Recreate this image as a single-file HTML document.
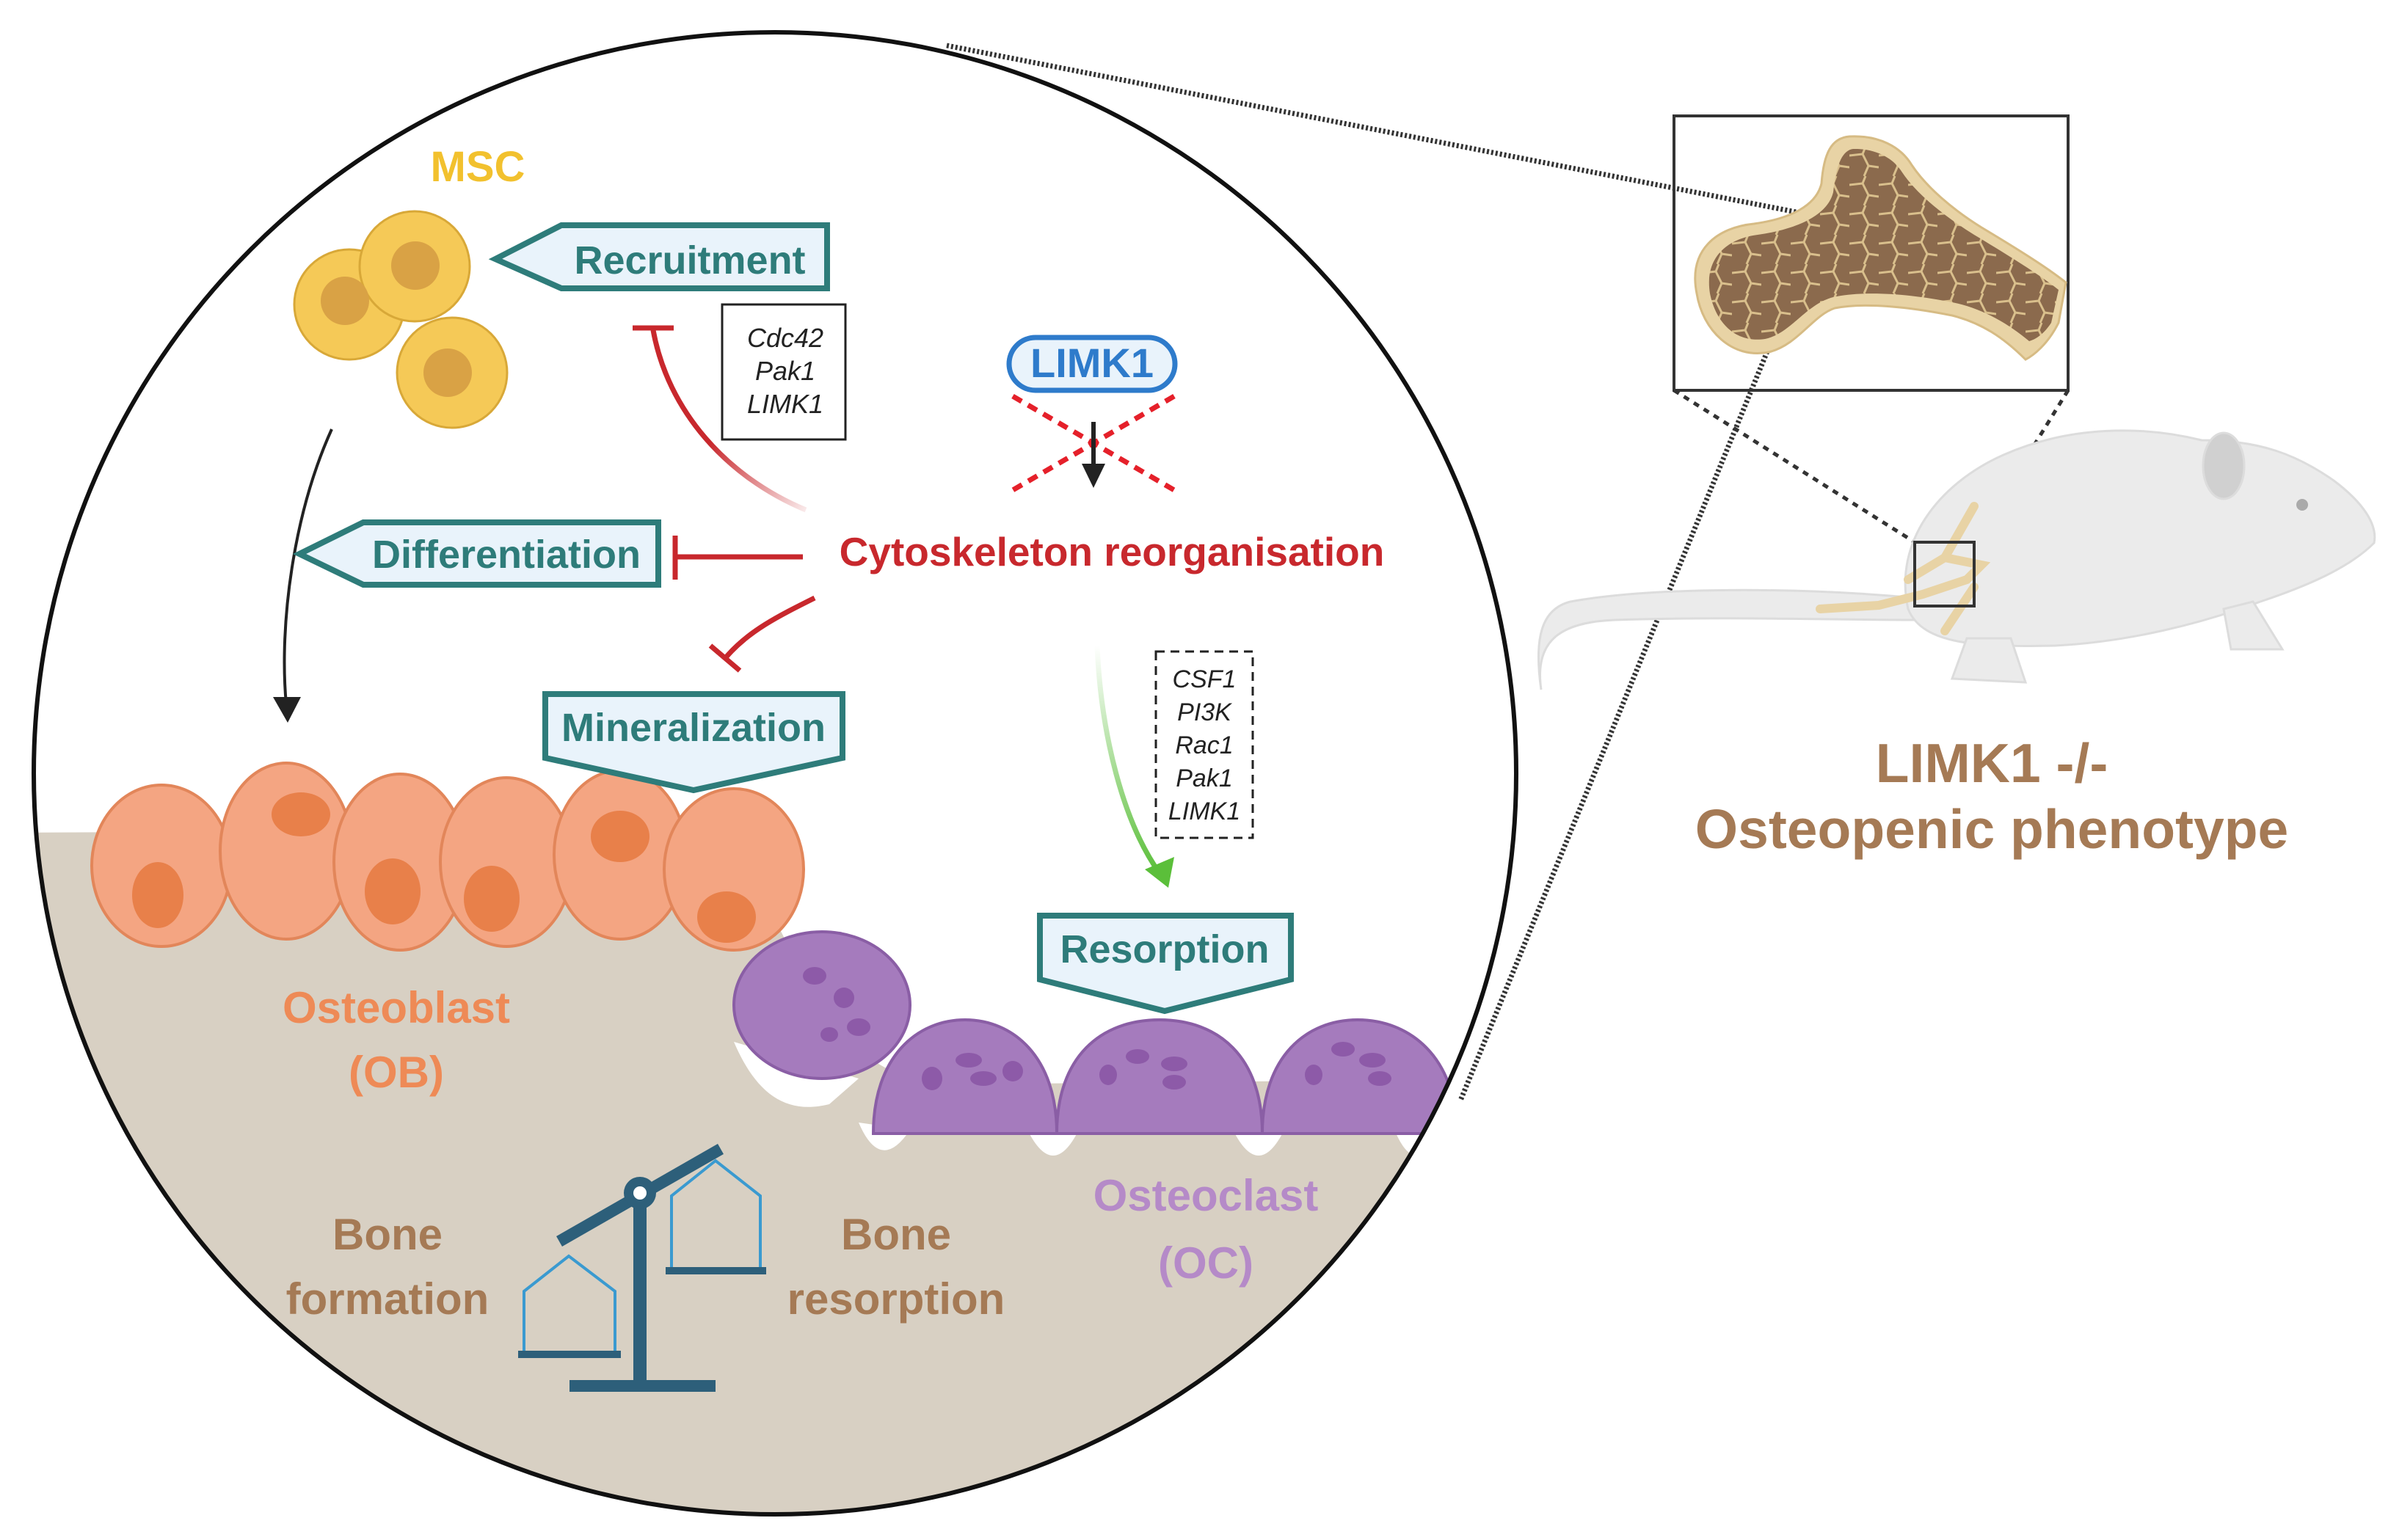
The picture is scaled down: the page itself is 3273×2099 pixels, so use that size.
<!DOCTYPE html>
<html><head><meta charset="utf-8"><style>
html,body{margin:0;padding:0;background:#fff;}
svg{display:block;}
text{font-family:"Liberation Sans",sans-serif;}
</style></head><body>
<svg width="3273" height="2099" viewBox="0 0 3273 2099" xmlns="http://www.w3.org/2000/svg">
<defs>
<clipPath id="circ"><circle cx="1056" cy="1054" r="1010"/></clipPath>
<linearGradient id="gr" x1="0" y1="0" x2="0" y2="1"><stop offset="0" stop-color="#5bbf3a" stop-opacity="0"/><stop offset="1" stop-color="#5bbf3a"/></linearGradient>
<linearGradient id="rd1" x1="1" y1="1" x2="0" y2="0"><stop offset="0" stop-color="#c8282d" stop-opacity="0.1"/><stop offset="0.5" stop-color="#c8282d"/></linearGradient>
<pattern id="sp" width="40" height="40" patternUnits="userSpaceOnUse">
<rect width="40" height="40" fill="#8b6a4d"/>
<path d="M0 12 L18 10 L22 0 M18 10 L26 26 L40 28 M26 26 L20 40" stroke="#d9bf8c" stroke-width="3" fill="none"/>
</pattern>
</defs>

<line x1="1290" y1="62" x2="2483" y2="296" stroke="#333" stroke-width="7" stroke-dasharray="3 3"/>
<line x1="2483" y1="296" x2="1990" y2="1500" stroke="#333" stroke-width="7" stroke-dasharray="3 3"/>

<g clip-path="url(#circ)">
<rect x="0" y="0" width="2100" height="2099" fill="#fff"/>
<path d="M0 1135 L1000 1130 C1040 1220 1080 1320 1160 1420 C1200 1460 1240 1475 1300 1478 L2100 1470 L2100 2100 L0 2100 Z" fill="#d8d0c3"/>
<g fill="#fff">
<path d="M1000 1420 C1030 1490 1070 1520 1130 1505 L1170 1470 Z"/>
<path d="M1170 1530 Q1200 1600 1240 1540 Z"/>
<path d="M1400 1540 Q1435 1610 1470 1540 Z"/>
<path d="M1680 1540 Q1715 1610 1750 1540 Z"/>
<path d="M1900 1540 Q1930 1610 1960 1540 Z"/>
</g>
<g fill="#f4a582" stroke="#e2865a" stroke-width="4">
<ellipse cx="220" cy="1180" rx="95" ry="110"/>
<ellipse cx="390" cy="1160" rx="90" ry="120"/>
<ellipse cx="545" cy="1175" rx="90" ry="120"/>
<ellipse cx="690" cy="1175" rx="90" ry="115"/>
<ellipse cx="845" cy="1165" rx="90" ry="115"/>
<ellipse cx="1000" cy="1185" rx="95" ry="110"/>
</g>
<g fill="#e8804a">
<ellipse cx="215" cy="1220" rx="35" ry="45"/>
<ellipse cx="410" cy="1110" rx="40" ry="30"/>
<ellipse cx="535" cy="1215" rx="38" ry="45"/>
<ellipse cx="670" cy="1225" rx="38" ry="45"/>
<ellipse cx="845" cy="1140" rx="40" ry="35"/>
<ellipse cx="990" cy="1250" rx="40" ry="35"/>
</g>
<g fill="#a57bbd" stroke="#8a5ea5" stroke-width="4">
<ellipse cx="1120" cy="1370" rx="120" ry="100"/>
<path d="M1190 1545 C1190 1440 1250 1390 1315 1390 C1380 1390 1440 1440 1440 1545 Z"/>
<path d="M1440 1545 C1440 1440 1500 1390 1580 1390 C1660 1390 1720 1440 1720 1545 Z"/>
<path d="M1720 1545 C1720 1440 1780 1390 1850 1390 C1920 1390 1985 1440 1985 1545 Z"/>
</g>
<g fill="#8d5aa8">
<ellipse cx="1110" cy="1330" rx="16" ry="12"/><ellipse cx="1150" cy="1360" rx="14" ry="14"/><ellipse cx="1170" cy="1400" rx="16" ry="12"/><ellipse cx="1130" cy="1410" rx="12" ry="10"/>
<ellipse cx="1270" cy="1470" rx="14" ry="16"/><ellipse cx="1320" cy="1445" rx="18" ry="10"/><ellipse cx="1340" cy="1470" rx="18" ry="10"/><ellipse cx="1380" cy="1460" rx="14" ry="14"/>
<ellipse cx="1550" cy="1440" rx="16" ry="10"/><ellipse cx="1600" cy="1450" rx="18" ry="10"/><ellipse cx="1510" cy="1465" rx="12" ry="14"/><ellipse cx="1600" cy="1475" rx="16" ry="10"/>
<ellipse cx="1830" cy="1430" rx="16" ry="10"/><ellipse cx="1870" cy="1445" rx="18" ry="10"/><ellipse cx="1790" cy="1465" rx="12" ry="14"/><ellipse cx="1880" cy="1470" rx="16" ry="10"/>
</g>
</g>
<circle cx="1056" cy="1054" r="1010" fill="none" stroke="#111" stroke-width="6"/>

<text x="651" y="247" font-size="58" font-weight="bold" fill="#f2c12e" text-anchor="middle">MSC</text>
<g fill="#f5c957" stroke="#d8a838" stroke-width="3">
<circle cx="476" cy="415" r="75"/><circle cx="565" cy="363" r="75"/><circle cx="616" cy="508" r="75"/>
</g>
<g fill="#d9a245"><circle cx="470" cy="410" r="33"/><circle cx="566" cy="362" r="33"/><circle cx="610" cy="508" r="33"/></g>

<path d="M452 585 C400 700 380 850 390 960" fill="none" stroke="#222" stroke-width="4"/>
<polygon points="372,950 410,950 392,985" fill="#222"/>

<g fill="#e9f3fb" stroke="#2e7c7a" stroke-width="8">
<polygon points="675,353 765,307 1127,307 1127,393 765,393"/>
<polygon points="408,755 495,712 897,712 897,797 495,797"/>
<polygon points="743,946 1148,946 1148,1033 945,1077 743,1033"/>
<polygon points="1417,1248 1759,1248 1759,1335 1587,1378 1417,1335"/>
</g>
<g font-weight="bold" font-size="54" fill="#2e7c7a" text-anchor="middle">
<text x="940" y="373">Recruitment</text>
<text x="690" y="774">Differentiation</text>
<text x="945" y="1010">Mineralization</text>
<text x="1587" y="1312">Resorption</text>
</g>

<rect x="984" y="415" width="168" height="184" fill="#fff" stroke="#222" stroke-width="3"/>
<g font-style="italic" font-size="36" fill="#222" text-anchor="middle">
<text x="1070" y="473">Cdc42</text><text x="1070" y="518">Pak1</text><text x="1070" y="563">LIMK1</text>
</g>

<rect x="1375" y="460" width="226" height="72" rx="36" fill="#e9f3fb" stroke="#2e7bcb" stroke-width="7"/>
<text x="1488" y="514" font-size="56" font-weight="bold" fill="#2e7bcb" text-anchor="middle">LIMK1</text>
<line x1="1380" y1="540" x2="1600" y2="668" stroke="#e5202a" stroke-width="7" stroke-dasharray="14 10"/>
<line x1="1600" y1="540" x2="1380" y2="668" stroke="#e5202a" stroke-width="7" stroke-dasharray="14 10"/>
<line x1="1490" y1="575" x2="1490" y2="640" stroke="#222" stroke-width="6"/>
<polygon points="1474,632 1506,632 1490,665" fill="#222"/>

<text x="1515" y="771" font-size="55" font-weight="bold" fill="#c8282d" text-anchor="middle">Cytoskeleton reorganisation</text>

<path d="M1098 695 C990 650 910 560 890 450" fill="none" stroke="url(#rd1)" stroke-width="7"/>
<line x1="862" y1="447" x2="918" y2="447" stroke="#c8282d" stroke-width="7"/>
<line x1="1094" y1="759" x2="922" y2="759" stroke="#c8282d" stroke-width="7"/>
<line x1="920" y1="730" x2="920" y2="790" stroke="#c8282d" stroke-width="7"/>
<path d="M1110 815 C1060 840 1020 860 990 895" fill="none" stroke="#c8282d" stroke-width="7"/>
<line x1="968" y1="880" x2="1008" y2="914" stroke="#c8282d" stroke-width="7"/>

<path d="M1495 880 C1500 1000 1530 1120 1580 1190" fill="none" stroke="url(#gr)" stroke-width="7"/>
<polygon points="1560,1185 1600,1168 1592,1210" fill="#5bbf3a"/>

<rect x="1575" y="888" width="132" height="254" fill="#fff" stroke="#222" stroke-width="3" stroke-dasharray="12 8"/>
<g font-style="italic" font-size="34" fill="#222" text-anchor="middle">
<text x="1641" y="937">CSF1</text><text x="1641" y="982">PI3K</text><text x="1641" y="1027">Rac1</text><text x="1641" y="1072">Pak1</text><text x="1641" y="1117">LIMK1</text>
</g>

<g font-weight="bold" font-size="60" text-anchor="middle">
<text x="540" y="1394" fill="#ee8a56">Osteoblast</text><text x="540" y="1482" fill="#ee8a56">(OB)</text>
<text x="1643" y="1650" fill="#b58ac8">Osteoclast</text><text x="1643" y="1742" fill="#b58ac8">(OC)</text>
<text x="528" y="1703" fill="#a57a55">Bone</text><text x="528" y="1791" fill="#a57a55">formation</text>
<text x="1221" y="1703" fill="#a57a55">Bone</text><text x="1221" y="1791" fill="#a57a55">resorption</text>
</g>

<g stroke="#2d5f7a" fill="none">
<line x1="872" y1="1620" x2="872" y2="1889" stroke-width="18"/>
<line x1="776" y1="1889" x2="975" y2="1889" stroke-width="16"/>
<line x1="762" y1="1692" x2="982" y2="1566" stroke-width="16"/>
<polyline points="714,1842 714,1760 775,1712 838,1760 838,1842" stroke="#3a9ad0" stroke-width="4"/>
<line x1="706" y1="1846" x2="846" y2="1846" stroke-width="10"/>
<polyline points="915,1728 915,1630 975,1582 1036,1630 1036,1728" stroke="#3a9ad0" stroke-width="4"/>
<line x1="907" y1="1732" x2="1044" y2="1732" stroke-width="10"/>
</g>
<circle cx="872" cy="1626" r="22" fill="#2d5f7a"/><circle cx="872" cy="1626" r="9" fill="#fff"/>

<!-- bone inset -->
<rect x="2281" y="158" width="537" height="374" fill="none" stroke="#333" stroke-width="4"/>
<path d="M2312 400 C2300 340 2340 310 2390 305 C2440 298 2475 280 2482 250 C2485 210 2495 188 2520 186 C2560 184 2590 200 2605 225 C2625 255 2660 285 2700 310 C2750 340 2790 365 2815 385 L2805 440 C2790 470 2770 485 2760 490 C2730 460 2700 440 2660 430 C2600 418 2540 412 2500 420 C2470 430 2450 470 2410 480 C2360 490 2320 450 2312 400 Z" fill="#e8d3a5" stroke="#d6bb84" stroke-width="3"/>
<path d="M2330 400 C2322 350 2355 325 2395 320 C2445 313 2490 295 2498 262 C2502 225 2510 205 2525 203 C2555 202 2580 215 2592 235 C2612 265 2650 295 2690 320 C2740 350 2780 375 2805 395 L2795 440 C2785 455 2775 462 2765 465 C2735 440 2700 420 2660 412 C2600 400 2540 396 2498 405 C2460 415 2440 455 2405 462 C2365 468 2338 440 2330 400 Z" fill="url(#sp)"/>
<line x1="2281" y1="532" x2="2609" y2="739" stroke="#333" stroke-width="5" stroke-dasharray="8 8"/>
<line x1="2818" y1="532" x2="2690" y2="739" stroke="#333" stroke-width="5" stroke-dasharray="8 8"/>

<!-- mouse -->
<g fill="#ebebeb" stroke="#dcdcdc" stroke-width="3">
<path d="M2610 815 C2450 800 2250 800 2140 820 C2100 830 2090 870 2100 940 C2090 870 2130 848 2200 845 C2350 840 2500 845 2610 845 Z"/>
<path d="M2600 830 C2580 740 2640 660 2730 620 C2820 580 2920 580 3000 600 C3080 600 3130 620 3180 655 C3220 685 3240 715 3235 740 C3200 775 3140 800 3080 820 C3000 850 2900 875 2800 880 C2700 882 2620 880 2600 830 Z"/>
<ellipse cx="3030" cy="635" rx="28" ry="45" fill="#d0d0d0"/>
<path d="M2680 870 L2660 925 L2760 930 L2740 870 Z"/>
<path d="M3030 830 L3040 885 L3110 885 L3070 820 Z"/>
</g>
<circle cx="3137" cy="688" r="8" fill="#aaa"/>
<g stroke="#e8d3a5" stroke-width="12" fill="none" stroke-linecap="round">
<path d="M2480 830 L2560 825 L2620 810 L2680 790 L2700 770 L2650 760 L2600 790"/>
<path d="M2650 760 L2690 690"/>
<path d="M2690 800 L2650 860"/>
</g>
<rect x="2609" y="739" width="81" height="87" fill="none" stroke="#333" stroke-width="4"/>

<g font-weight="bold" font-size="75" fill="#a57a55" text-anchor="middle">
<text x="2714" y="1066">LIMK1 -/-</text>
<text x="2714" y="1156">Osteopenic phenotype</text>
</g>
</svg>
</body></html>
